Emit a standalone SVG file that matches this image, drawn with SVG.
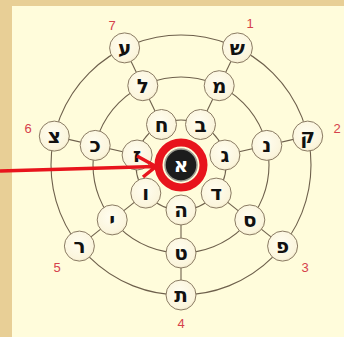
<svg xmlns="http://www.w3.org/2000/svg" width="344" height="337" viewBox="0 0 344 337">
<defs>
<radialGradient id="ng" cx="0.45" cy="0.4" r="0.65">
<stop offset="0" stop-color="#fffdf0"/>
<stop offset="0.8" stop-color="#fbf5dc"/>
<stop offset="1" stop-color="#ece2c2"/>
</radialGradient>
</defs>
<style>
.ring{fill:none;stroke:#6e604c;stroke-width:1.1}
.sp{stroke:#6e604c;stroke-width:1.1}
.nd circle{fill:url(#ng);stroke:#8a7b63;stroke-width:1}
.nd text{font-family:"DejaVu Sans","Liberation Sans",sans-serif;font-weight:bold;font-size:20px;fill:#111;text-anchor:middle;dominant-baseline:central}
.num{font-family:"Liberation Sans",Arial,sans-serif;font-size:13px;fill:#d5414b;text-anchor:middle;dominant-baseline:central}
</style>
<rect x="0" y="0" width="344" height="337" fill="#e8cf96"/>
<rect x="12" y="6" width="332" height="331" fill="#fffcdb"/>
<g id="rings">
<circle class="ring" cx="181" cy="165" r="45"/>
<circle class="ring" cx="181" cy="165" r="88"/>
<circle class="ring" cx="181" cy="165" r="130"/>
</g>
<g id="connectors">
<line class="sp" x1="200.5" y1="124.5" x2="237.4" y2="47.9"/>
<line class="sp" x1="224.9" y1="155" x2="307.7" y2="136.1"/>
<line class="sp" x1="216.2" y1="193.1" x2="282.6" y2="246.1"/>
<line class="sp" x1="181" y1="210" x2="181" y2="295"/>
<line class="sp" x1="145.8" y1="193.1" x2="79.4" y2="246.1"/>
<line class="sp" x1="137.1" y1="155" x2="54.3" y2="136.1"/>
<line class="sp" x1="161.5" y1="124.5" x2="124.6" y2="47.9"/>
</g>
<g id="n-shin" class="nd"><circle cx="237.4" cy="47.9" r="15"/><text x="237.4" y="47.9">ש</text></g>
<g id="n-mem" class="nd"><circle cx="219.2" cy="85.7" r="15"/><text x="219.2" y="85.7">מ</text></g>
<g id="n-bet" class="nd"><circle cx="200.5" cy="124.5" r="15"/><text x="200.5" y="124.5">ב</text></g>
<g id="n-qof" class="nd"><circle cx="307.7" cy="136.1" r="15"/><text x="307.7" y="136.1">ק</text></g>
<g id="n-nun" class="nd"><circle cx="266.8" cy="145.4" r="15"/><text x="266.8" y="145.4">נ</text></g>
<g id="n-gimel" class="nd"><circle cx="224.9" cy="155" r="15"/><text x="224.9" y="155">ג</text></g>
<g id="n-pe" class="nd"><circle cx="282.6" cy="246.1" r="15"/><text x="282.6" y="246.1">פ</text></g>
<g id="n-samekh" class="nd"><circle cx="249.8" cy="219.9" r="15"/><text x="249.8" y="219.9">ס</text></g>
<g id="n-dalet" class="nd"><circle cx="216.2" cy="193.1" r="15"/><text x="216.2" y="193.1">ד</text></g>
<g id="n-tav" class="nd"><circle cx="181" cy="295" r="15"/><text x="181" y="295">ת</text></g>
<g id="n-tet" class="nd"><circle cx="181" cy="253" r="15"/><text x="181" y="253">ט</text></g>
<g id="n-he" class="nd"><circle cx="181" cy="210" r="15"/><text x="181" y="210">ה</text></g>
<g id="n-resh" class="nd"><circle cx="79.4" cy="246.1" r="15"/><text x="79.4" y="246.1">ר</text></g>
<g id="n-yod" class="nd"><circle cx="112.2" cy="219.9" r="15"/><text x="112.2" y="219.9">י</text></g>
<g id="n-vav" class="nd"><circle cx="145.8" cy="193.1" r="15"/><text x="145.8" y="193.1">ו</text></g>
<g id="n-tsadi" class="nd"><circle cx="54.3" cy="136.1" r="15"/><text x="54.3" y="136.1">צ</text></g>
<g id="n-kaf" class="nd"><circle cx="95.2" cy="145.4" r="15"/><text x="95.2" y="145.4">כ</text></g>
<g id="n-zayin" class="nd"><circle cx="137.1" cy="155" r="15"/><text x="137.1" y="155">ז</text></g>
<g id="n-ayin" class="nd"><circle cx="124.6" cy="47.9" r="15"/><text x="124.6" y="47.9">ע</text></g>
<g id="n-lamed" class="nd"><circle cx="142.8" cy="85.7" r="15"/><text x="142.8" y="85.7">ל</text></g>
<g id="n-het" class="nd"><circle cx="161.5" cy="124.5" r="15"/><text x="161.5" y="124.5">ח</text></g>
<g id="arrow">
<path d="M0,171 L155,166.5 M137,156 L156,166.5 L143,177" fill="none" stroke="#e8141c" stroke-width="3.5" stroke-linejoin="miter"/>
</g>
<g id="n-alef">
<circle cx="181" cy="165" r="16" fill="#1c1c1c" stroke="#9a9a90" stroke-width="1.5"/>
<circle cx="181" cy="165" r="22.5" fill="none" stroke="#e8141c" stroke-width="8"/>
<text x="181" y="165" font-family="DejaVu Sans,Liberation Sans,sans-serif" font-weight="bold" font-size="20" fill="#fff" text-anchor="middle" dominant-baseline="central">א</text>
</g>
<g id="labels">
<text class="num" x="250" y="23">1</text>
<text class="num" x="337" y="128">2</text>
<text class="num" x="305" y="267">3</text>
<text class="num" x="181" y="323">4</text>
<text class="num" x="57" y="267">5</text>
<text class="num" x="28" y="128">6</text>
<text class="num" x="112" y="25">7</text>
</g>
</svg>
